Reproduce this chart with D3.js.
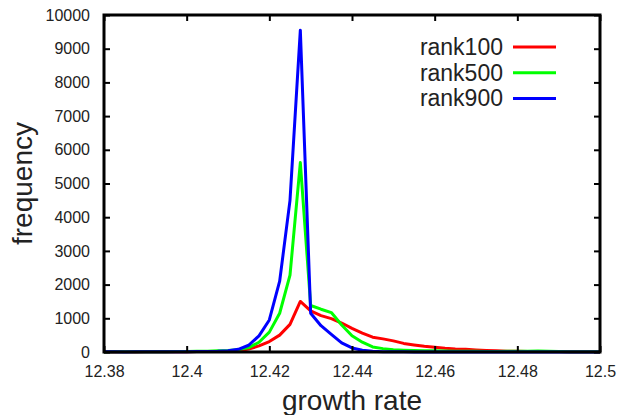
<!DOCTYPE html>
<html><head><meta charset="utf-8">
<script src="https://cdn.jsdelivr.net/npm/d3@7"></script>
<style>body{margin:0;background:#fff}svg{display:block}text{font-family:"Liberation Sans",Arial,Helvetica,sans-serif;fill:#222}</style>
</head><body><svg id="c" width="620" height="415"></svg>
<script>
const growthRates = d3.range(49).map(k => +(12.38 + k * 0.0025).toFixed(4));
const rank100 = [2,3,4,3,5,6,8,8,10,12,15,18,20,40,90,180,310,500,820,1500,1220,1080,990,860,700,560,440,390,330,255,210,170,140,110,90,80,60,45,35,25,20,18,15,12,15,10,8,6,5];
const rank500 = [3,4,5,6,5,8,10,12,15,20,25,35,45,70,130,290,590,1150,2280,5620,1380,1270,1170,800,480,290,150,100,70,55,45,40,35,30,25,22,20,18,15,20,25,20,30,25,15,10,8,5,5];
const rank900 = [5,4,3,4,6,5,7,9,10,12,18,25,40,80,200,480,950,2100,4500,9550,1150,780,520,270,120,50,20,8,5,4,3,3,2,2,2,2,1,1,1,1,1,1,1,1,1,1,1,1,1];
const seriesNames = ["rank100","rank500","rank900"];
const seriesColors = ["#ff0000","#00ff00","#0000ff"];
const xTicks = [12.38,12.4,12.42,12.44,12.46,12.48,12.5];
const yTicks = [0,1000,2000,3000,4000,5000,6000,7000,8000,9000,10000];

const svg = d3.select("#c");
const L=104, R=600, T=15, B=352;
const x = d3.scaleLinear().domain([12.38,12.5]).range([L,R]);
const y = d3.scaleLinear().domain([0,10000]).range([B,T]);

const series = [rank100, rank500, rank900];
const line = d3.line().x((d,i)=>x(growthRates[i])).y(d=>y(d));
series.forEach((s,j)=>{
  svg.append("path").datum(s).attr("d",line).attr("fill","none")
    .attr("stroke",seriesColors[j]).attr("stroke-width",3).attr("stroke-linejoin","round");
});

// axes
const fmtX = d => String(d);
svg.append("g").attr("transform",`translate(0,${B})`)
  .call(d3.axisBottom(x).tickValues(xTicks).tickFormat(fmtX).tickSize(-6).tickPadding(14))
  .call(g=>{g.select(".domain").remove();g.selectAll("line").attr("stroke","#000").attr("stroke-width",2);
    g.selectAll("text").attr("font-size",16).attr("font-family","Liberation Sans, Arial, sans-serif").attr("fill","#222");});
svg.append("g").attr("transform",`translate(0,${T})`)
  .call(d3.axisTop(x).tickValues(xTicks).tickFormat("").tickSize(-6))
  .call(g=>{g.select(".domain").remove();g.selectAll("line").attr("stroke","#000").attr("stroke-width",2);});
svg.append("g").attr("transform",`translate(${L},0)`)
  .call(d3.axisLeft(y).tickValues(yTicks).tickFormat(d=>String(d)).tickSize(-6).tickPadding(14))
  .call(g=>{g.select(".domain").remove();g.selectAll("line").attr("stroke","#000").attr("stroke-width",2);
    g.selectAll("text").attr("font-size",16).attr("font-family","Liberation Sans, Arial, sans-serif").attr("fill","#222");});
svg.append("g").attr("transform",`translate(${R},0)`)
  .call(d3.axisRight(y).tickValues(yTicks).tickFormat("").tickSize(-6))
  .call(g=>{g.select(".domain").remove();g.selectAll("line").attr("stroke","#000").attr("stroke-width",2);});

svg.append("rect").attr("x",L).attr("y",T).attr("width",R-L).attr("height",B-T)
  .attr("fill","none").attr("stroke","#000").attr("stroke-width",3);

// titles
svg.append("text").attr("x",(L+R)/2).attr("y",410).attr("text-anchor","middle").attr("font-size",28).text("growth rate");
svg.append("text").attr("transform",`translate(32,${(T+B)/2}) rotate(-90)`).attr("text-anchor","middle").attr("font-size",28).text("frequency");

// legend
seriesNames.forEach((n,j)=>{
  const ly = 47 + j*25.7;
  svg.append("text").attr("x",503).attr("y",ly).attr("dy","0.35em").attr("text-anchor","end").attr("font-size",23).text(n);
  svg.append("line").attr("x1",513).attr("x2",556).attr("y1",ly).attr("y2",ly).attr("stroke",seriesColors[j]).attr("stroke-width",3);
});
</script></body></html>
